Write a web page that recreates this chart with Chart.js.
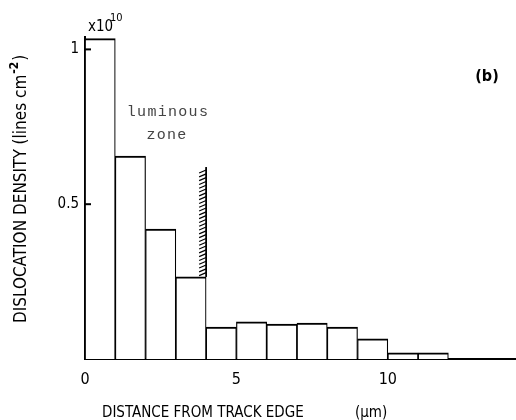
<!DOCTYPE html>
<html>
<head>
<meta charset="utf-8">
<script src="https://cdn.jsdelivr.net/npm/chart.js@4"></script>
<style>
html,body{margin:0;padding:0;background:#fff;}
</style>
</head>
<body>
<canvas id="chart" width="516" height="420"></canvas>
<script>
/* data */
const binStart = [0,1,2,3,4,5,6,7,8,9,10,11];
const density = [1.035,0.655,0.42,0.265,0.103,0.12,0.113,0.116,0.103,0.065,0.02,0.02];
const xTicks = [0,5,10];
const yTicks = [0.5,1];
const yTickLabels = ["0.5","1"];
const zoneEdge = 4;
const zoneTop = 0.62;
const zoneBottom = 0.265;

const FONT = "'Liberation Sans Narrow', 'DejaVu Sans Condensed', sans-serif";
const MONO = "'Liberation Mono', 'DejaVu Sans Mono', monospace";

/* =========================
   EXTRA DRAWING
========================= */
const overlay = {
  id: "overlay",
  afterDraw(chart){
    const ctx = chart.ctx;
    const x = chart.scales.x, y = chart.scales.y;
    ctx.save();
    ctx.strokeStyle = "#000";
    ctx.fillStyle = "#000";

    // inward ticks on y axis
    ctx.lineWidth = 2;
    yTicks.forEach(v=>{
      const py = y.getPixelForValue(v);
      ctx.beginPath(); ctx.moveTo(x.left, py); ctx.lineTo(x.left+6, py); ctx.stroke();
    });

    // hatched edge of luminous zone
    const hx = x.getPixelForValue(zoneEdge);
    const pTop = y.getPixelForValue(zoneTop);
    const pBot = y.getPixelForValue(zoneBottom);
    ctx.lineWidth = 1.8;
    ctx.beginPath(); ctx.moveTo(hx, pBot); ctx.lineTo(hx, pTop); ctx.stroke();
    ctx.lineWidth = 1.2;
    for(let py = pTop+3; py < pBot-2; py += 3.8){
      ctx.beginPath(); ctx.moveTo(hx-7, py+3); ctx.lineTo(hx, py); ctx.stroke();
    }

    // multiplier
    ctx.textBaseline = "middle";
    ctx.textAlign = "left";
    ctx.font = "15px " + FONT;
    ctx.fillText("x10", 88, 27);
    ctx.font = "11px " + FONT;
    ctx.fillText("10", 110, 18);

    // luminous zone label
    ctx.fillStyle = "#444";
    ctx.font = "15px " + MONO;
    ctx.letterSpacing = "1.3px";
    ctx.textAlign = "center";
    ctx.fillText("luminous", 168, 112);
    ctx.fillText("zone", 167, 135);
    ctx.letterSpacing = "0px";

    // panel tag
    ctx.fillStyle = "#000";
    ctx.font = "bold 16px " + FONT;
    ctx.fillText("(b)", 487, 77);

    // x title
    ctx.font = "15px " + FONT;
    ctx.textAlign = "left";
    ctx.fillText("DISTANCE FROM TRACK EDGE", 102, 413);
    ctx.fillText("(\u03bcm)", 355, 413);

    // y title
    ctx.translate(22, 323);
    ctx.rotate(-Math.PI/2);
    ctx.font = "17px " + FONT;
    const main = "DISLOCATION DENSITY (lines cm";
    ctx.fillText(main, 0, 0);
    const w = ctx.measureText(main).width;
    ctx.font = "bold 12px " + FONT;
    ctx.fillText("-2", w+1, -7);
    const w2 = ctx.measureText("-2").width;
    ctx.font = "17px " + FONT;
    ctx.fillText(")", w+w2+2, 0);

    ctx.restore();
  }
};

/* =========================
   CHART
========================= */
new Chart(document.getElementById("chart"), {
  type: "bar",
  data: {
    datasets: [{
      data: binStart.map((s,i)=>({ x: s+0.5, y: density[i] })),
      backgroundColor: "#fff",
      borderColor: "#000",
      borderWidth: { top: 2, left: 1.2, right: 1.2, bottom: 0 },
      borderSkipped: false,
      barPercentage: 1,
      categoryPercentage: 1
    }]
  },
  options: {
    responsive: false,
    animation: false,
    devicePixelRatio: 1,
    layout: { padding: { top: 37, right: 1, left: 0, bottom: 0 } },
    plugins: { legend: { display: false }, tooltip: { enabled: false } },
    scales: {
      x: {
        type: "linear",
        offset: false,
        min: 0,
        max: 14.2,
        afterBuildTicks: s => { s.ticks = xTicks.map(v=>({ value: v })); },
        afterFit: s => { s.height = 61; },
        grid: { display: false, drawTicks: false },
        border: { color: "#000", width: 2 },
        ticks: {
          padding: 11,
          color: "#000",
          font: { family: FONT, size: 16 },
          maxRotation: 0
        }
      },
      y: {
        min: 0,
        max: 1.04,
        afterBuildTicks: s => { s.ticks = yTicks.map(v=>({ value: v })); },
        afterFit: s => { s.width = 85; },
        grid: { display: false, drawTicks: false },
        border: { color: "#000", width: 2 },
        ticks: {
          padding: 6,
          color: "#000",
          font: { family: FONT, size: 15 },
          callback: v => yTickLabels[yTicks.indexOf(v)]
        }
      }
    }
  },
  plugins: [overlay]
});
</script>
</body>
</html>
